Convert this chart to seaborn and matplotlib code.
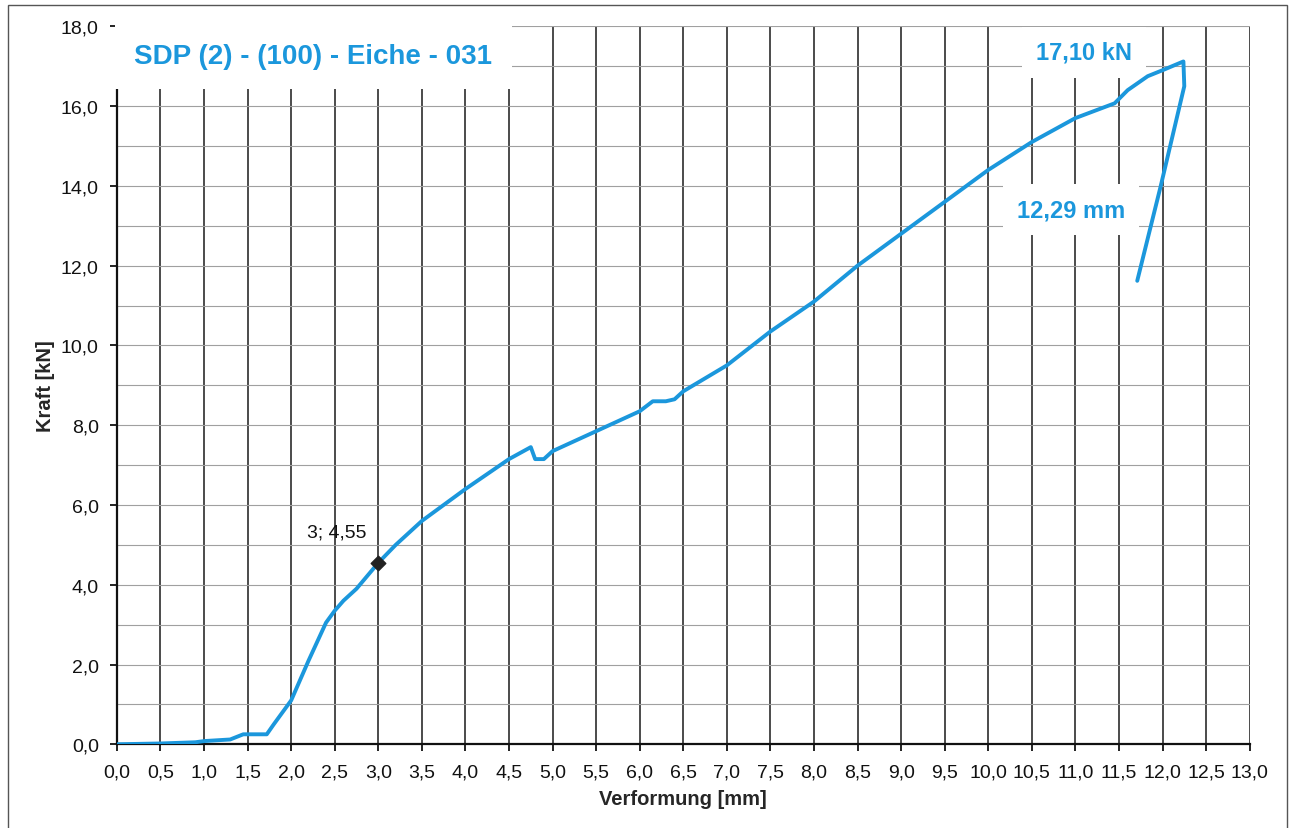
import numpy as np
import pandas as pd
import seaborn as sns
import matplotlib.pyplot as plt
from matplotlib.patches import Rectangle
from matplotlib.ticker import MultipleLocator, FuncFormatter

# Kraft-Verformungs-Kurve
verformung = [0.0, 0.5, 0.9, 1.0, 1.3, 1.45, 1.72, 1.8, 2.0, 2.2, 2.4, 2.5, 2.6, 2.75,
              3.0, 3.2, 3.5, 4.0, 4.5, 4.75, 4.8, 4.9, 5.0, 5.5, 6.0, 6.15, 6.3, 6.4,
              6.5, 7.0, 7.5, 8.0, 8.5, 9.0, 9.5, 10.0, 10.5, 11.0, 11.45, 11.6, 11.83,
              12.0, 12.24, 12.25, 11.98, 11.71]
kraft = [0.0, 0.02, 0.05, 0.08, 0.12, 0.25, 0.25, 0.5, 1.1, 2.1, 3.05, 3.35, 3.6, 3.9,
         4.55, 5.0, 5.6, 6.4, 7.15, 7.45, 7.15, 7.15, 7.35, 7.85, 8.35, 8.6, 8.6, 8.65,
         8.85, 9.5, 10.35, 11.1, 12.0, 12.8, 13.6, 14.4, 15.1, 15.7, 16.07, 16.4, 16.75,
         16.9, 17.12, 16.5, 14.0, 11.62]

punkt_x = [3.0]
punkt_y = [4.55]

titel = "SDP (2) - (100) - Eiche - 031"
max_kraft = "17,10 kN"
max_weg = "12,29 mm"

df = pd.DataFrame({"Verformung": verformung, "Kraft": kraft})

sns.set_style("white")
plt.rcParams["font.family"] = ["Liberation Sans", "DejaVu Sans"]

blau = "#1b97dc"

fig = plt.figure(figsize=(12.99, 8.29), dpi=100)
ax = fig.add_axes([0.090, 0.101, 0.872, 0.866])

sns.lineplot(data=df, x="Verformung", y="Kraft", sort=False, color=blau,
             linewidth=2.8, ax=ax, zorder=4)
ax.scatter(punkt_x, punkt_y, marker="D", s=55, color="#222222", zorder=5)
ax.annotate("3; 4,55", (punkt_x[0], punkt_y[0]), xytext=(-30, 22),
            textcoords="offset points", fontsize=14, color="#111111",
            ha="center", va="center", zorder=6)

ax.set_xlim(0, 13)
ax.set_ylim(0, 18)
ax.xaxis.set_major_locator(MultipleLocator(0.5))
ax.yaxis.set_major_locator(MultipleLocator(2))
ax.yaxis.set_minor_locator(MultipleLocator(1))
komma = FuncFormatter(lambda v, p: f"{v:.1f}".replace(".", ","))
ax.xaxis.set_major_formatter(komma)
ax.yaxis.set_major_formatter(komma)

ax.grid(axis="x", which="major", color="#1a1a1a", linewidth=1.1)
ax.grid(axis="y", which="both", color="#a0a0a0", linewidth=0.8)
ax.set_axisbelow(True)

for s in ["top", "right"]:
    ax.spines[s].set_visible(False)
ax.spines["left"].set_color("#111111")
ax.spines["left"].set_linewidth(1.6)
ax.spines["bottom"].set_color("#111111")
ax.spines["bottom"].set_linewidth(1.6)

ax.tick_params(axis="both", which="major", direction="out", length=5, width=1.3,
               color="#111111", labelsize=14, labelcolor="#111111", bottom=True, left=True)
ax.tick_params(axis="y", which="minor", length=0)
ax.tick_params(axis="x", pad=9)
ax.tick_params(axis="y", pad=8)

ax.set_xlabel("Verformung [mm]", fontsize=14.5, fontweight="bold", labelpad=6)
ax.set_ylabel("Kraft [kN]", fontsize=14.5, fontweight="bold", labelpad=4,
              family=["Liberation Sans Narrow", "Liberation Sans", "DejaVu Sans"])

box = dict(boxstyle="square,pad=0.6", facecolor="white", edgecolor="none")
ax.text(0.2, 17.25, titel, fontsize=20, fontweight="bold", color=blau,
        va="center", ha="left", bbox=dict(boxstyle="square,pad=0.7", facecolor="white", edgecolor="none"),
        zorder=3)
ax.text(11.1, 17.35, max_kraft, fontsize=17, fontweight="bold", color=blau,
        va="center", ha="center", bbox=box, zorder=3)
ax.text(10.95, 13.4, max_weg, fontsize=17, fontweight="bold", color=blau,
        va="center", ha="center", bbox=box, zorder=3)

fig.patches.append(Rectangle((0.006, -0.01), 0.985, 1.003, transform=fig.transFigure,
                             fill=False, edgecolor="#555555", linewidth=1.0))

fig.savefig("out.png", dpi=100)
